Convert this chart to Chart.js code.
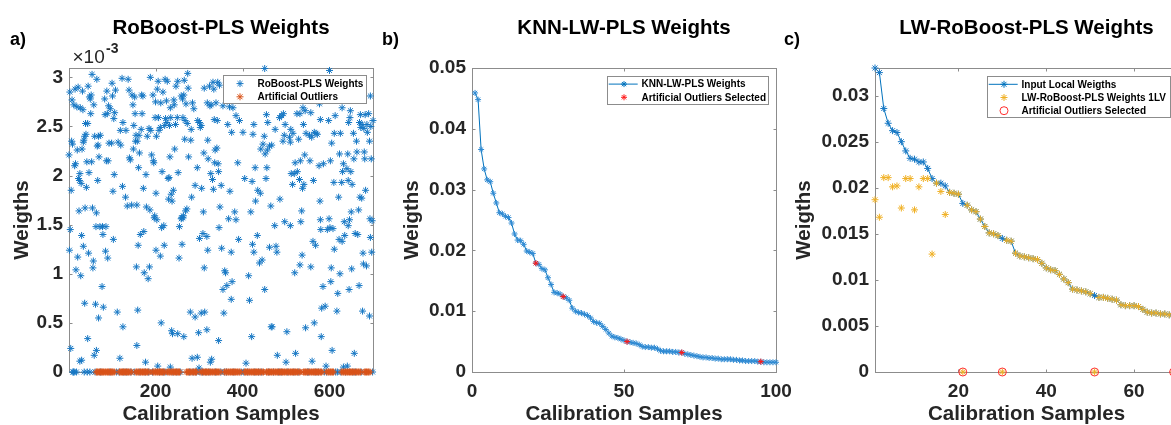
<!DOCTYPE html>
<html>
<head>
<meta charset="utf-8">
<script src="https://cdn.jsdelivr.net/npm/chart.js@4.4.0/dist/chart.umd.min.js"></script>
<style>
  html, body { margin: 0; padding: 0; background: #fff; overflow: hidden; width: 1171px; height: 425px; }
  canvas { position: absolute; top: 0; }
  #chartA { left: 0; }
  #chartB { left: 380px; }
  #chartC { left: 780px; }
</style>
</head>
<body>
<canvas id="chartA" width="380" height="425"></canvas>
<canvas id="chartB" width="420" height="425"></canvas>
<canvas id="chartC" width="410" height="425"></canvas>
<script>
// a) RoBoost-PLS weights, values in units of 1e-3
const roboostIdx = [
  54,65,100,123,137,188,206,222,227,3,15,22,32,45,48,
  52,50,58,88,83,101,108,139,146,152,168,171,194,204,217,
  200,212,225,8,12,19,27,33,92,96,89,84,106,148,153,
  169,199,207,223,226,221,39,44,51,104,125,119,132,150,167,
  185,189,208,211,40,37,35,34,60,69,73,155,162,181,202,
  7,9,66,68,93,99,114,120,154,158,20,31,1,70,91,
  140,142,149,163,191,195,196,16,14,42,53,87,26,23,25,
  29,47,105,161,178,215,229,67,41,6,102,124,172,201,131,
  135,145,157,179,187,24,38,55,64,198,
  274,451,251,266,275,312,324,332,343,334,347,247,259,265,262,
  242,234,243,270,285,288,319,325,328,339,355,370,378,443,455,
  235,250,263,268,297,301,303,305,335,342,366,385,393,426,458,
  232,246,273,282,375,401,424,450,267,281,320,447,442,452,457,
  462,244,233,276,311,337,341,321,336,344,389,429,456,231,252,
  296,327,331,345,405,422,454,241,236,230,291,306,333,351,371,
  435,441,283,238,348,310,272,269,264,260,382,419,430,
  600,694,577,539,544,494,490,485,525,532,557,629,648,671,682,
  690,700,475,498,511,516,508,496,540,579,598,613,647,644,669,
  675,686,695,679,672,546,554,559,565,569,572,611,625,655,687,
  510,529,605,662,692,467,543,533,521,493,623,642,663,680,681,
  696,656,602,586,576,632,640,630,649,555,519,531,526,512,563,
  541,538,515,610,628,643,652,683,670,674,486,621,465,536,578,
  650,667,599,693,
  4,30,2,21,34,46,57,56,17,28,63,72,78,86,79,
  103,85,90,77,160,165,173,156,174,183,186,197,203,214,219,
  201,220,211,37,62,80,69,112,125,159,213,44,5,157,59,
  64,26,30,118,177,205,
  259,263,255,261,254,309,301,318,320,312,346,368,385,352,374,
  391,359,361,414,423,426,434,445,439,462,355,364,376,374,416,
  451,280,291,305,313,357,237,239,251,265,299,318,345,421,466,
  284,296,326,329,408,300,234,
  474,497,510,534,579,580,595,601,608,634,646,643,659,665,698,
  694,562,568,622,629,635,611,477,479,537,532,557,520,604,624,
  651,678,685,677,697,585,603,619,645,668,582,590,617,676,692,
  468,502,545,565,581,606,657,480,522,500,560,592,632,641
];
const roboostW = [
  3.03,2.98,2.94,2.99,2.98,3.00,2.96,2.98,2.96,2.85,2.88,2.90,2.86,2.91,2.80,
  2.82,2.78,2.72,2.86,2.78,2.81,2.87,2.87,2.82,2.80,2.82,2.81,2.82,2.88,2.85,
  2.75,2.74,2.76,2.77,2.72,2.70,2.69,2.67,2.71,2.68,2.63,2.62,2.64,2.72,2.63,
  2.63,2.59,2.59,2.58,2.54,2.51,2.53,2.53,2.63,2.58,2.54,2.46,2.46,2.51,2.47,
  2.48,2.46,2.46,2.49,2.42,2.40,2.36,2.34,2.40,2.40,2.41,2.41,2.41,2.40,2.40,
  2.35,2.32,2.30,2.31,2.33,2.33,2.34,2.31,2.35,2.35,2.26,2.27,2.21,2.19,2.15,
  2.18,2.16,2.27,2.23,2.21,2.15,2.13,2.12,2.10,2.14,2.14,2.15,2.02,1.97,1.95,
  1.92,2.03,2.01,2.08,2.01,2.04,1.97,1.95,1.88,1.85,1.84,1.89,1.87,1.82,1.78,
  1.69,1.70,1.70,1.68,1.65,1.64,1.67,1.67,1.62,1.59,
  3.04,3.09,2.96,2.97,2.89,2.89,2.91,2.95,2.95,2.88,2.92,2.91,2.81,2.82,2.78,
  2.77,2.69,2.72,2.73,2.74,2.68,2.74,2.71,2.72,2.74,2.71,2.70,2.69,2.81,2.62,
  2.59,2.59,2.59,2.56,2.56,2.54,2.49,2.51,2.57,2.56,2.52,2.61,2.56,2.52,2.54,
  2.51,2.52,2.53,2.47,2.44,2.44,2.42,2.40,2.37,2.36,2.36,2.32,2.27,2.22,2.26,
  2.30,2.27,2.19,2.19,2.23,2.26,2.28,2.17,2.13,2.12,2.13,2.08,2.08,1.98,2.03,
  2.08,2.02,1.96,2.04,1.97,1.94,1.97,1.85,1.81,1.76,1.90,1.87,1.86,1.90,1.84,
  1.85,1.82,1.78,1.74,1.68,1.63,1.66,1.64,1.59,1.57,1.63,1.63,1.74,
  3.07,2.81,2.73,2.69,2.66,2.63,2.61,2.59,2.63,2.63,2.64,2.69,2.66,2.62,2.62,
  2.63,2.56,2.47,2.52,2.47,2.43,2.39,2.41,2.52,2.57,2.56,2.61,2.59,2.54,2.54,
  2.52,2.52,2.50,2.48,2.49,2.43,2.41,2.39,2.44,2.43,2.42,2.43,2.43,2.43,2.44,
  2.34,2.37,2.33,2.35,2.35,2.31,2.21,2.15,2.13,2.35,2.22,2.22,2.24,2.24,2.17,
  2.17,2.17,2.15,2.12,2.10,2.12,2.07,2.04,2.04,2.15,2.02,1.96,2.04,2.02,1.95,
  1.91,1.87,1.91,1.93,1.93,1.95,1.91,1.85,1.78,1.77,1.76,1.78,1.69,1.64,1.74,
  1.63,1.65,1.56,1.56,
  1.45,1.39,1.24,1.17,1.28,1.21,1.13,1.06,1.04,0.98,1.48,1.48,1.48,1.48,1.40,
  1.35,1.23,1.16,0.87,1.29,1.40,1.43,1.07,1.01,0.95,1.07,1.57,1.55,1.47,1.49,
  1.24,1.29,1.18,0.70,0.69,0.66,0.55,0.61,0.46,0.63,0.50,0.34,0.24,0.27,0.17,
  0.22,0.11,0.12,0.14,0.10,0.06,
  1.56,1.57,1.48,1.30,1.16,1.41,1.36,1.38,1.24,1.06,1.47,1.56,1.55,1.26,1.22,
  1.35,1.03,1.01,0.98,1.30,1.22,1.39,1.14,1.11,1.27,0.84,0.88,0.92,0.74,0.73,
  0.84,0.61,0.56,0.60,0.61,0.60,0.42,0.39,0.39,0.36,0.40,0.43,0.32,0.36,0.46,
  0.14,0.15,0.10,0.13,0.09,0.04,0.05,
  1.49,1.53,1.49,1.53,1.55,1.45,1.45,1.47,1.46,1.53,1.55,1.49,1.41,1.40,1.54,
  1.37,1.33,1.29,1.35,1.33,1.39,1.25,1.28,1.22,1.19,1.09,1.07,1.01,1.06,1.00,
  1.05,1.10,1.08,1.21,1.22,0.87,0.92,0.80,0.84,0.88,0.65,0.67,0.62,0.62,0.57,
  0.46,0.41,0.45,0.50,0.36,0.22,0.19,0.17,0.19,0.10,0.11,0.06,0.05,0.06
];
// samples whose RoBoost weight is zero (not outliers)
const roboostZeroIdx = [10,11,13,18,36,43,49,61,74,95,110,116,127,134,143,151,164,176,184,193,
  209,218,224,240,249,257,278,286,293,302,308,316,323,338,350,358,363,380,397,403,412,428,437,
  444,460,471,483,489,504,518,528,549,552,567,574,588,593,614,618,626,637,654,660,673,699];
// artificial outliers (weight 0)
const outlierIdx = [
  64,66,68,71,73,75,77,79,81,84,86,89,91,93,96,98,100,102,105,
  117,119,122,124,126,129,131,133,136,138,141,144,
  155,157,160,162,165,167,170,172,175,177,180,182,185,
  194,196,199,201,204,206,209,211,214,216,219,221,
  228,231,233,236,238,241,243,246,248,251,253,255,
  271,274,276,279,281,284,287,289,292,294,
  305,307,310,312,315,317,320,322,325,327,330,332,335,337,340,342,345,348,
  359,362,364,367,369,372,374,377,379,382,384,387,389,392,394,
  405,407,410,412,415,417,420,422,425,427,430,432,435,437,440,442,445,448,
  455,457,460,462,465,467,470,472,475,477,480,482,485,487,490,492,495,497,500,502,505,507,510,512,515,517,520,522,525,527,530,532,
  540,543,545,548,550,553,555,558,560,563,565,568,570,573,575,578,580,582,
  594,597,599,602,604,607,609,
  628,631,633,636,638,641,643,646,648,651,653,656,658,661,663,666,668,671,
  680,683,685,688,690,693
];
const xTicksA = [200, 400, 600];
const yTicksA = [0, 0.5, 1, 1.5, 2, 2.5, 3];

// b) KNN-LW-PLS weights of the 100 nearest samples
const knnW = [
  0.0459,0.0448,0.0366,0.0334,0.0316,0.0313,0.0294,0.0278,0.0262,0.0260,
  0.0256,0.0254,0.0245,0.0227,0.0217,0.0216,0.0210,0.0199,0.0197,0.0195,
  0.0179,0.0177,0.0170,0.0168,0.0155,0.0144,0.0131,0.0130,0.0128,0.0124,
  0.0122,0.0118,0.0105,0.0100,0.0098,0.0097,0.0095,0.0093,0.0089,0.0083,
  0.0081,0.0080,0.0075,0.0070,0.0064,0.0059,0.0057,0.0056,0.0054,0.0052,
  0.0050,0.0049,0.0048,0.0047,0.0045,0.0042,0.0041,0.0041,0.0040,0.0040,
  0.0038,0.0035,0.0034,0.0034,0.0034,0.0033,0.0033,0.0032,0.0032,0.0030,
  0.0029,0.0028,0.0027,0.0026,0.0025,0.0024,0.0024,0.0023,0.0023,0.0022,
  0.0022,0.0021,0.0021,0.0021,0.0021,0.0020,0.0020,0.0019,0.0019,0.0018,
  0.0018,0.0018,0.0018,0.0017,0.0017,0.0016,0.0016,0.0016,0.0016,0.0016
];
const knnOutIdx = [21, 30, 51, 69, 95];
const xTicksB = [0, 50, 100];
const yTicksB = [0, 0.01, 0.02, 0.03, 0.04, 0.05];

// c) LW-RoBoost-PLS
const inputW = [
  0.0330,0.0325,0.0286,0.0270,0.0262,0.0260,0.0250,0.0240,0.0232,0.0231,
  0.0228,0.0228,0.0221,0.0210,0.0205,0.0205,0.0202,0.0195,0.0194,0.0193,
  0.0183,0.0181,0.0176,0.0174,0.0166,0.0158,0.0151,0.0150,0.0148,0.0145,
  0.0143,0.0142,0.0129,0.0126,0.0125,0.0124,0.0123,0.0122,0.0118,0.0113,
  0.0111,0.0110,0.0106,0.0101,0.0097,0.0090,0.0089,0.0088,0.0087,0.0085,
  0.0083,0.0081,0.0081,0.0080,0.0079,0.0078,0.0073,0.0072,0.0072,0.0072,
  0.0071,0.0068,0.0065,0.0064,0.0064,0.0063,0.0063,0.0062,0.0062,0.0061
];
const lwW = [
  0.0187,0.0168,0.0211,0.0211,0.0201,0.0202,0.0178,0.0210,0.0210,0.0176,
  0.0201,0.0210,0.0210,0.0128,0.0205,0.0196,0.0171,0.0195,0.0194,0.0193,
  0,0.0181,0.0176,0.0174,0.0166,0.0158,0.0151,0.0150,0.0148,0,
  0.0143,0.0142,0.0129,0.0126,0.0125,0.0124,0.0123,0.0122,0.0118,0.0113,
  0.0111,0.0110,0.0106,0.0101,0.0097,0.0090,0.0089,0.0088,0.0087,0.0085,
  0,0.0081,0.0081,0.0080,0.0079,0.0078,0.0073,0.0072,0.0072,0.0072,
  0.0071,0.0068,0.0065,0.0064,0.0064,0.0063,0.0063,0.0062,0,0.0061
];
const lwOutIdx = [21, 30, 51, 69];
const xTicksC = [20, 40, 60];
const yTicksC = [0, 0.005, 0.01, 0.015, 0.02, 0.025, 0.03];

const FONT = '"Liberation Sans", Arial, Helvetica, sans-serif';
const BLUE = '#0072BD';
const TXT = '#262626';

function drawMark(ctx, style, color, r, x, y) {
  ctx.save();
  ctx.strokeStyle = color;
  ctx.fillStyle = 'rgba(0,0,0,0)';
  Chart.helpers.drawPoint(ctx, { pointStyle: style, radius: r, borderWidth: 1, rotation: 0 }, x, y);
  ctx.restore();
}

// MATLAB-like axes decoration: box, inward ticks, title, panel letter, legend
const matlabAxes = {
  id: 'matlabAxes',
  beforeDatasetsDraw(chart, args, o) {
    const { ctx, chartArea: a, scales: { x, y } } = chart;
    const L = Math.round(a.left) + 0.5, R = Math.round(a.right) + 0.5;
    const T = Math.round(a.top) + 0.5, B = Math.round(a.bottom) + 0.5;
    ctx.save();
    ctx.strokeStyle = '#8c8c8c';
    ctx.lineWidth = 1;
    ctx.strokeRect(L, T, R - L, B - T);
    ctx.beginPath();
    x.ticks.forEach(t => {
      const p = Math.round(x.getPixelForValue(t.value)) + 0.5;
      ctx.moveTo(p, B); ctx.lineTo(p, B - 3);
      ctx.moveTo(p, T); ctx.lineTo(p, T + 3);
    });
    y.ticks.forEach(t => {
      const p = Math.round(y.getPixelForValue(t.value)) + 0.5;
      ctx.moveTo(L, p); ctx.lineTo(L + 3, p);
      ctx.moveTo(R, p); ctx.lineTo(R - 3, p);
    });
    ctx.stroke();
    ctx.restore();
  },
  afterDraw(chart, args, o) {
    const { ctx, chartArea: a } = chart;
    ctx.save();
    ctx.fillStyle = '#000';
    ctx.textBaseline = 'alphabetic';
    ctx.textAlign = 'center';
    ctx.font = 'bold 20.5px ' + FONT;
    ctx.fillText(o.title, (a.left + a.right) / 2, 34);
    ctx.textAlign = 'left';
    ctx.font = 'bold 18px ' + FONT;
    ctx.fillText(o.letter, o.letterX, 45);
    if (o.exponent) {
      ctx.fillStyle = TXT;
      ctx.font = '19px ' + FONT;
      ctx.fillText('\u00d710', a.left + 3.5, 63);
      ctx.font = 'bold 14px ' + FONT;
      ctx.fillText(o.exponent, a.left + 37, 53);
    }
    const lg = o.legend;
    ctx.fillStyle = '#fff';
    ctx.fillRect(lg.x, lg.y, lg.w, lg.h);
    ctx.strokeStyle = '#8c8c8c';
    ctx.lineWidth = 1;
    ctx.strokeRect(Math.round(lg.x) + 0.5, Math.round(lg.y) + 0.5, Math.round(lg.w), Math.round(lg.h));
    ctx.font = 'bold 10px ' + FONT;
    ctx.textBaseline = 'middle';
    lg.items.forEach((it, i) => {
      const cy = lg.y + 8.3 + i * 13.2;
      if (it.line) {
        ctx.strokeStyle = it.color;
        ctx.beginPath();
        ctx.moveTo(lg.x + 2, cy); ctx.lineTo(lg.x + 31, cy);
        ctx.stroke();
      }
      drawMark(ctx, it.style, it.color, it.r || 3.5, lg.x + 17.3, cy);
      ctx.fillStyle = '#000';
      ctx.fillText(it.text, lg.x + 34.8, cy + 0.5);
    });
    ctx.restore();
  }
};

function scalesFor(o) {
  const tickFont = { family: FONT, size: 19, weight: 'bold' };
  const titleFont = { family: FONT, size: 20.5, weight: 'bold', lineHeight: 1 };
  return {
    x: {
      type: 'linear', min: o.xMin, max: o.xMax,
      grid: { display: false, drawTicks: false }, border: { display: false },
      ticks: { font: tickFont, color: TXT, padding: 8, maxRotation: 0, autoSkip: false, callback: v => String(v) },
      afterBuildTicks: s => { s.ticks = o.xTicks.map(v => ({ value: v })); },
      afterFit: s => { s.height = 53; s.paddingLeft = 0; s.paddingRight = 0; },
      title: { display: true, text: 'Calibration Samples', color: TXT, font: titleFont, padding: 0 }
    },
    y: {
      type: 'linear', min: 0, max: o.yMax,
      grid: { display: false, drawTicks: false }, border: { display: false },
      ticks: { font: tickFont, color: TXT, padding: 6, autoSkip: false, callback: v => String(v) },
      afterBuildTicks: s => { s.ticks = o.yTicks.map(v => ({ value: v })); },
      afterFit: s => { s.width = o.yAxisW; s.paddingTop = 0; s.paddingBottom = 0; },
      title: { display: true, text: 'Weigths', color: TXT, font: titleFont, padding: { top: o.yTitlePad, bottom: 0 } }
    }
  };
}

function baseOptions(o, plug) {
  return {
    responsive: false,
    animation: false,
    events: [],
    layout: { padding: { left: 0, right: o.padRight, top: 68, bottom: 0 } },
    scales: scalesFor(o),
    plugins: { legend: { display: false }, tooltip: { enabled: false }, title: { display: false }, matlabAxes: plug }
  };
}

function starSet(points, color, r) {
  return { data: points, showLine: false, pointStyle: 'star', pointRadius: r, pointBorderColor: color,
           pointBorderWidth: 1, pointBackgroundColor: color, clip: false };
}

// ---- panel a ----
const blueA = roboostIdx.map((x, i) => ({ x, y: roboostW[i] }))
  .concat(roboostZeroIdx.map(x => ({ x, y: 0 })));
const orangeA = outlierIdx.map(x => ({ x, y: 0 }));
new Chart(document.getElementById('chartA'), {
  type: 'scatter',
  plugins: [matlabAxes],
  data: { datasets: [starSet(orangeA, '#D95319', 3.5), starSet(blueA, '#1677c4', 3.5)] },
  options: baseOptions(
    { xMin: 1, xMax: 700, yMax: 3.095, xTicks: xTicksA, yTicks: yTicksA, yAxisW: 69, yTitlePad: 12.3, padRight: 7 },
    { title: 'RoBoost-PLS Weights', letter: 'a)', letterX: 10, exponent: '-3',
      legend: { x: 222.7, y: 75.3, w: 143, h: 28, items: [
        { text: 'RoBoost-PLS Weights', color: '#1677c4', style: 'star' },
        { text: 'Artificial Outliers', color: '#D95319', style: 'star' } ] } })
});

// ---- panel b ----
const knnPts = knnW.map((y, i) => ({ x: i + 1, y }));
const knnRed = knnOutIdx.map(x => ({ x, y: knnW[x - 1] }));
new Chart(document.getElementById('chartB'), {
  type: 'scatter',
  plugins: [matlabAxes],
  data: { datasets: [
    starSet(knnRed, '#ff1a1a', 3),
    Object.assign(starSet(knnPts, '#2f8ad3', 3), { showLine: true, borderColor: BLUE, borderWidth: 1, tension: 0 })
  ] },
  options: baseOptions(
    { xMin: 0, xMax: 100, yMax: 0.05, xTicks: xTicksB, yTicks: yTicksB, yAxisW: 92, yTitlePad: 22.3, padRight: 24 },
    { title: 'KNN-LW-PLS Weights', letter: 'b)', letterX: 2,
      legend: { x: 226.7, y: 75.8, w: 161, h: 27.5, items: [
        { text: 'KNN-LW-PLS Weights', color: BLUE, style: 'star', line: true, r: 3 },
        { text: 'Artificial Outliers Selected', color: '#ff1a1a', style: 'star', r: 3 } ] } })
});

// ---- panel c ----
const inputPts = inputW.map((y, i) => ({ x: i + 1, y }));
const lwPts = lwW.map((y, i) => ({ x: i + 1, y }));
const lwRed = lwOutIdx.map(x => ({ x, y: lwW[x - 1] }));
new Chart(document.getElementById('chartC'), {
  type: 'scatter',
  plugins: [matlabAxes],
  data: { datasets: [
    { data: lwRed, showLine: false, pointStyle: 'circle', pointRadius: 4, pointBorderColor: '#ff3030',
      pointBackgroundColor: 'rgba(0,0,0,0)', pointBorderWidth: 1, clip: false },
    starSet(lwPts, '#F0B024', 3.5),
    Object.assign(starSet(inputPts, '#1677c4', 3.5), { showLine: true, borderColor: BLUE, borderWidth: 1, tension: 0 })
  ] },
  options: baseOptions(
    { xMin: 1, xMax: 70, yMax: 0.033, xTicks: xTicksC, yTicks: yTicksC, yAxisW: 95, yTitlePad: 14, padRight: 12 },
    { title: 'LW-RoBoost-PLS Weights', letter: 'c)', letterX: 4,
      legend: { x: 206.7, y: 76, w: 183, h: 40.5, items: [
        { text: 'Input Local Weigths', color: BLUE, style: 'star', line: true },
        { text: 'LW-RoBoost-PLS Weights 1LV', color: '#F0B024', style: 'star' },
        { text: 'Artificial Outliers Selected', color: '#ff3030', style: 'circle', r: 4 } ] } })
});
</script>
</body>
</html>
